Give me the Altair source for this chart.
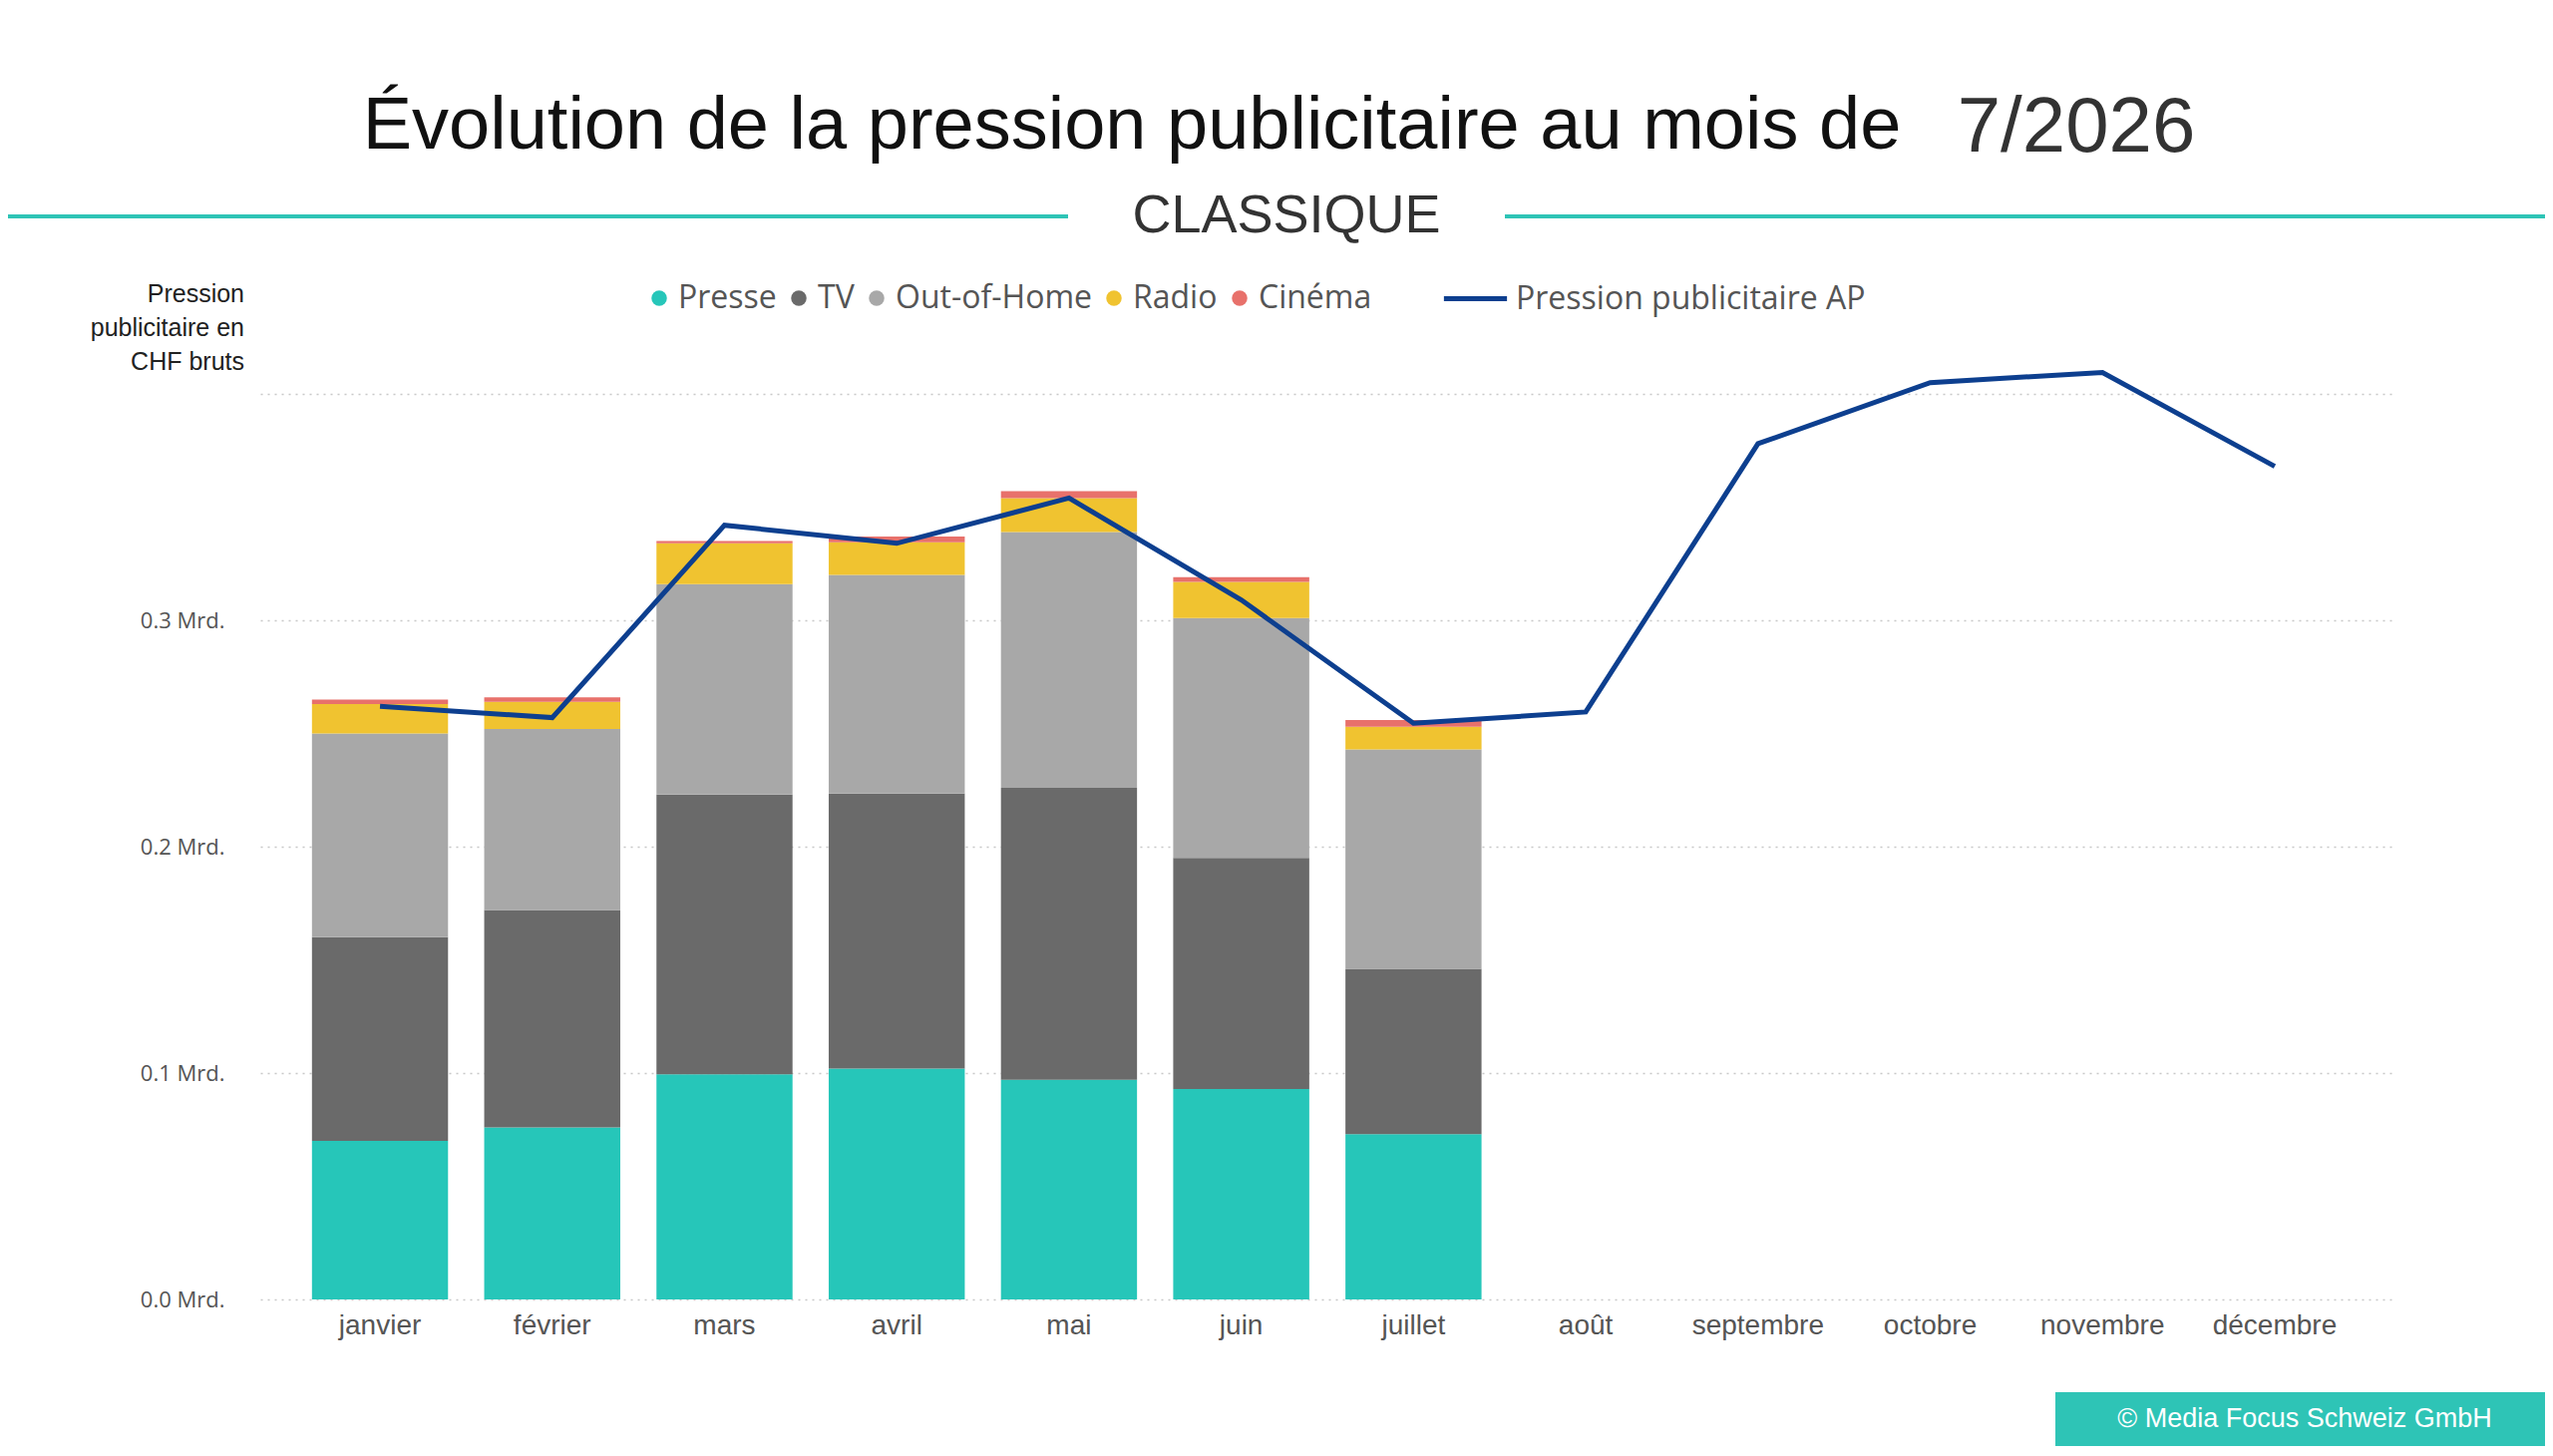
import altair as alt
import pandas as pd

mois = ['janvier', 'février', 'mars', 'avril', 'mai', 'juin', 'juillet',
        'août', 'septembre', 'octobre', 'novembre', 'décembre']
medias = ['Presse', 'TV', 'Out-of-Home', 'Radio', 'Cinéma']
couleurs = ['#26c6b9', '#6a6a6a', '#a8a8a8', '#f0c330', '#e8716b']

# valeurs en milliards CHF (jan - juil)
presse = [0.070, 0.076, 0.0995, 0.102, 0.097, 0.093, 0.073]
tv = [0.090, 0.096, 0.1235, 0.1215, 0.129, 0.102, 0.073]
ooh = [0.090, 0.080, 0.093, 0.0965, 0.113, 0.106, 0.097]
radio = [0.013, 0.012, 0.018, 0.0145, 0.015, 0.016, 0.010]
cinema = [0.002, 0.002, 0.001, 0.0025, 0.003, 0.002, 0.003]
pression_ap = [0.262, 0.257, 0.342, 0.334, 0.354, 0.309, 0.2545,
               0.2595, 0.378, 0.405, 0.4095, 0.368]

rows = []
for i, m in enumerate(mois[:7]):
    for j, (name, vals) in enumerate(zip(medias, [presse, tv, ooh, radio, cinema])):
        rows.append({'mois': m, 'media': name, 'valeur': vals[i], 'ordre': j})
bars_df = pd.DataFrame(rows)
line_df = pd.DataFrame({'mois': mois, 'valeur': pression_ap,
                        'serie': 'Pression publicitaire AP'})

W, H = 2140, 908
teal = '#2ec4b6'

x_enc = alt.X('mois:N', sort=mois, title=None,
              scale=alt.Scale(domain=mois, paddingInner=0.21, paddingOuter=0.3),
              axis=alt.Axis(labelFont='Liberation Sans', labelFontSize=28,
                            labelColor='#555', labelPadding=12, ticks=False,
                            domain=False, labelAngle=0))
y_scale = alt.Scale(domain=[0, 0.4], nice=False)

bars = alt.Chart(bars_df).mark_bar().encode(
    x=x_enc,
    y=alt.Y('valeur:Q', stack='zero', scale=y_scale, title=None,
            axis=alt.Axis(values=[0, 0.1, 0.2, 0.3, 0.4],
                          labelExpr="datum.value > 0.35 ? '' : format(datum.value, '.1f') + ' Mrd.'",
                          labelFont='Open Sans', labelFontSize=22, labelColor='#555',
                          labelPadding=36, ticks=False, domain=False,
                          grid=True, gridDash=[2, 5], gridColor='#c8c8c8', gridWidth=1.5)),
    color=alt.Color('media:N', scale=alt.Scale(domain=medias, range=couleurs),
                    legend=alt.Legend(title=None, orient='none', direction='horizontal',
                                      legendX=384, legendY=-112, symbolType='circle',
                                      symbolSize=240, labelFont='Open Sans',
                                      labelFontSize=32, labelColor='#555', labelLimit=0,
                                      columnPadding=6, labelOffset=3, symbolStrokeWidth=0)),
    order=alt.Order('ordre:Q', sort='ascending'),
)

line = alt.Chart(line_df).mark_line(strokeWidth=5).encode(
    x=alt.X('mois:N', sort=mois),
    y=alt.Y('valeur:Q', scale=y_scale),
    stroke=alt.Stroke('serie:N', scale=alt.Scale(range=['#0d3f8f']),
                      legend=alt.Legend(title=None, orient='none', legendX=1184,
                                        legendY=-130, symbolType='stroke',
                                        symbolStrokeWidth=5, symbolSize=4000,
                                        labelFont='Open Sans', labelFontSize=32,
                                        labelColor='#555', labelOffset=6, labelLimit=0)),
)

one = pd.DataFrame({'a': [1]})
titre = alt.Chart(one).mark_text(font='Liberation Sans', fontSize=74, color='#111').encode(
    x=alt.value(874), y=alt.value(-268),
    text=alt.value('Évolution de la pression publicitaire au mois de'))
date = alt.Chart(one).mark_text(font='Liberation Sans', fontSize=78, color='#333').encode(
    x=alt.value(1821), y=alt.value(-266), text=alt.value('7/2026'))
sous = alt.Chart(one).mark_text(font='Liberation Sans', fontSize=54, color='#333').encode(
    x=alt.value(1029), y=alt.value(-178), text=alt.value('CLASSIQUE'))
trait_g = alt.Chart(one).mark_rule(color=teal, strokeWidth=4).encode(
    x=alt.value(-261), x2=alt.value(810), y=alt.value(-178))
trait_d = alt.Chart(one).mark_rule(color=teal, strokeWidth=4).encode(
    x=alt.value(1248), x2=alt.value(2299), y=alt.value(-178))
ytitre = alt.Chart(one).mark_text(font='Liberation Sans', fontSize=25, color='#222',
                                  align='right', lineBreak='\n', lineHeight=34).encode(
    x=alt.value(-16), y=alt.value(-100),
    text=alt.value('Pression\npublicitaire en\nCHF bruts'))
pied = alt.Chart(one).mark_rect(color=teal).encode(
    x=alt.value(1800), x2=alt.value(2299), y=alt.value(1001), y2=alt.value(1055))
pied_txt = alt.Chart(one).mark_text(font='Liberation Sans', fontSize=27, color='white').encode(
    x=alt.value(2050), y=alt.value(1028), text=alt.value('© Media Focus Schweiz GmbH'))

chart = alt.layer(bars, line, titre, date, sous, trait_g, trait_d, ytitre, pied, pied_txt
).resolve_scale(color='independent', stroke='independent').properties(
    width=W, height=H,
    autosize=alt.AutoSizeParams(type='none'),
    padding={'left': 253, 'top': 387, 'right': 151, 'bottom': 157},
).configure_view(strokeWidth=0)

chart.save("out.html", embed_options={"renderer": "svg", "actions": False})
